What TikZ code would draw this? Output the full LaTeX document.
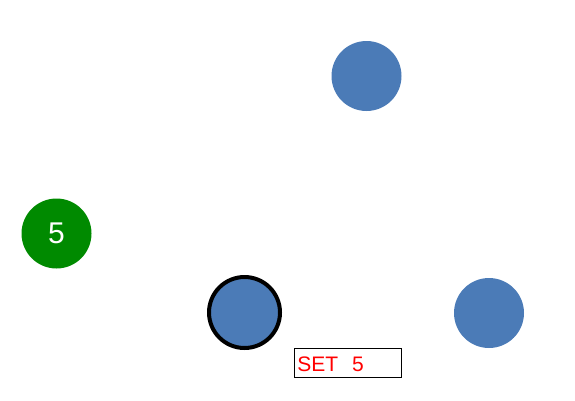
\documentclass[tikz,border=0pt]{standalone}
\usepackage{fontspec}
\setmainfont{Liberation Sans}
\definecolor{nodeblue}{HTML}{4B7BB7}
\definecolor{nodegreen}{HTML}{008A00}
\begin{document}
\begin{tikzpicture}[
  x = 1pt, y = -1pt,
  vertex/.style = {
    shape = circle,
    fill = nodeblue,
    minimum size = 70pt,
    inner sep = 0pt,
    outer sep = 0pt,
  },
  label box/.style = {
    shape = rectangle,
    draw = black,
    line width = 0.8pt,
    anchor = north west,
    minimum width = 107pt,
    minimum height = 29pt,
    text width = 102pt,
    text height = 20pt,
    text depth = 3pt,
    inner xsep = 2pt,
    inner ysep = 3pt,
    align = left,
    text = red,
    font = \fontsize{21}{23}\selectfont,
  }
]
  \useasboundingbox (0, 0) rectangle (575, 400);

  \node[vertex] (v1) at (366.5, 76) {};
  \node[vertex, fill = nodegreen, text = white,
        font = \fontsize{30}{32}\selectfont] (v2) at (56.5, 233.5) {5};
  \node[vertex, draw = black, line width = 4pt, minimum size = 71pt] (v3) at (244.5, 312.5) {};
  \node[vertex] (v4) at (489, 313) {};

  \node[label box] (set) at (294.4, 348.4) {SET\ \ 5};
\end{tikzpicture}
\end{document}
